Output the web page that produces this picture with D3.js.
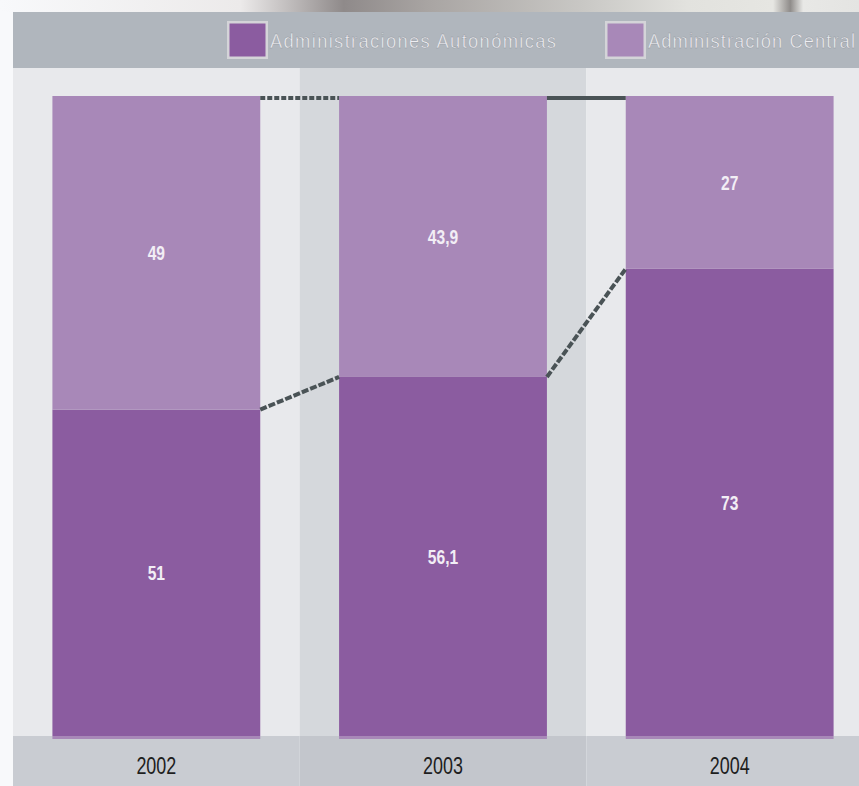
<!DOCTYPE html>
<html><head><meta charset="utf-8">
<script src="https://cdn.jsdelivr.net/npm/d3@7"></script>
<style>
html,body{margin:0;padding:0;background:#f8f9fb;}
svg{display:block;}
</style></head>
<body>
<svg id="chart" width="859" height="786"></svg>
<script>
// ---- data ----
const years = ["2002", "2003", "2004"];
const autonomicas = [51, 56.1, 73];
const central = [49, 43.9, 27];
const seriesNames = ["Administraciones Autonómicas", "Administración Central"];

// ---- setup ----
const W = 859, H = 786;
const svg = d3.select("#chart");
const font = "'Liberation Sans',Arial,sans-serif";
const squeeze = 0.78;
const colAuto = "#8b5ca0", colCentral = "#a888b8", lineCol = "#4a5356";

const leftEdge = 13, topEdge = 12, legendBottom = 68, plotBottom = 736;

// background gradient (photo strip at top)
const defs = svg.append("defs");
const g1 = defs.append("linearGradient").attr("id", "photo").attr("x1", "0").attr("x2", "1");
[["0%", "#f8f9fb"], ["28%", "#eceaea"], ["40%", "#8f8a8a"], ["50%", "#a9a5a3"], ["68%", "#c9c8c5"], ["80%", "#e2e2de"], ["90%", "#e6e6e2"], ["92%", "#8f8c8a"], ["93.5%", "#e8e8e6"], ["100%", "#e4e4e2"]]
  .forEach(([o, c]) => g1.append("stop").attr("offset", o).attr("stop-color", c));
svg.append("rect").attr("x", 0).attr("y", 0).attr("width", W).attr("height", topEdge).attr("fill", "url(#photo)");

// scales
const xPanel = d3.scaleBand().domain(years).range([leftEdge, 873]).padding(0);
const xBar = d3.scaleBand().domain(years).range([leftEdge, 873]).paddingInner(0.275).paddingOuter(0.1375);
const y = d3.scaleLinear().domain([0, 100]).range([plotBottom, 96]);

// legend band
svg.append("rect").attr("x", leftEdge).attr("y", topEdge).attr("width", W - leftEdge).attr("height", legendBottom - topEdge).attr("fill", "#b0b6bd");

// panels
svg.selectAll("rect.panel").data(years).join("rect").attr("class", "panel")
  .attr("x", d => xPanel(d)).attr("y", legendBottom)
  .attr("width", xPanel.bandwidth()).attr("height", plotBottom - legendBottom)
  .attr("fill", (d, i) => i % 2 ? "#d5d8dc" : "#e8e9ec");
// axis band
svg.selectAll("rect.axisband").data(years).join("rect").attr("class", "axisband")
  .attr("x", d => xPanel(d)).attr("y", plotBottom)
  .attr("width", xPanel.bandwidth()).attr("height", H - plotBottom)
  .attr("fill", (d, i) => i % 2 ? "#c3c6cc" : "#c9ccd2");

// stacked data
const rows = years.map((yr, i) => ({ year: yr, auto: autonomicas[i], central: central[i] }));
const stack = d3.stack().keys(["auto", "central"])(rows);
const colors = { auto: colAuto, central: colCentral };

// bottom lighter strip
svg.selectAll("rect.strip").data(years).join("rect").attr("class", "strip")
  .attr("x", d => xBar(d)).attr("y", plotBottom).attr("width", xBar.bandwidth()).attr("height", 3)
  .attr("fill", colCentral);

svg.append("g").selectAll("g").data(stack).join("g")
  .attr("fill", s => colors[s.key])
  .selectAll("rect").data(s => s).join("rect")
  .attr("x", d => xBar(d.data.year)).attr("y", d => y(d[1]))
  .attr("width", xBar.bandwidth()).attr("height", d => y(d[0]) - y(d[1]));

// connector lines
const fmt = v => String(v).replace(".", ",");
for (let i = 0; i < years.length - 1; i++) {
  const x1 = xBar(years[i]) + xBar.bandwidth(), x2 = xBar(years[i + 1]);
  svg.append("line").attr("x1", x1).attr("x2", x2)
    .attr("y1", y(100) + 2).attr("y2", y(100) + 2)
    .attr("stroke", lineCol).attr("stroke-width", 4)
    .attr("stroke-dasharray", i === 0 ? "5,2" : null);
  svg.append("line").attr("x1", x1).attr("x2", x2)
    .attr("y1", y(autonomicas[i])).attr("y2", y(autonomicas[i + 1]))
    .attr("stroke", lineCol).attr("stroke-width", 4)
    .attr("stroke-dasharray", "7,2");
}

// value labels
svg.append("g").selectAll("g").data(stack).join("g")
  .selectAll("text").data(s => s).join("text")
  .attr("transform", d => `translate(${xBar(d.data.year) + xBar.bandwidth() / 2},${(y(d[0]) + y(d[1])) / 2}) scale(${squeeze},1)`)
  .attr("dy", "0.36em")
  .attr("text-anchor", "middle")
  .attr("font-family", font).attr("font-weight", "bold").attr("font-size", 20)
  .attr("fill", "#f2eef5")
  .text(d => fmt(+(d[1] - d[0]).toFixed(1)));

// x axis labels
const xAxis = d3.axisBottom(xBar).tickSize(0).tickPadding(0);
const ax = svg.append("g").attr("transform", `translate(0,${plotBottom})`).call(xAxis);
ax.select(".domain").remove();
ax.selectAll("text").attr("y", 38).attr("dy", 0)
  .attr("transform", `scale(${squeeze},1)`)
  .attr("font-family", font).attr("font-size", 23).attr("fill", "#1e1e1e");

// legend
const legX = [227, 605], legTL = [286, 207];
const leg = svg.append("g");
seriesNames.forEach((name, i) => {
  const g = leg.append("g").attr("transform", `translate(${legX[i]},21)`);
  g.append("rect").attr("width", 41).attr("height", 38).attr("fill", "#d4d4d8");
  g.append("rect").attr("x", 2.5).attr("y", 2.5).attr("width", 36).attr("height", 33)
    .attr("fill", i === 0 ? colAuto : colCentral);
  g.append("text").attr("transform", `translate(43,27) scale(0.92,1)`)
    .attr("font-family", font).attr("font-size", 20).attr("fill", "#eeeef2")
    .attr("stroke", "#8e939a").attr("stroke-width", 0.4)
    .attr("textLength", legTL[i] / 0.92).attr("lengthAdjust", "spacing")
    .text(name);
});
</script>
</body></html>
